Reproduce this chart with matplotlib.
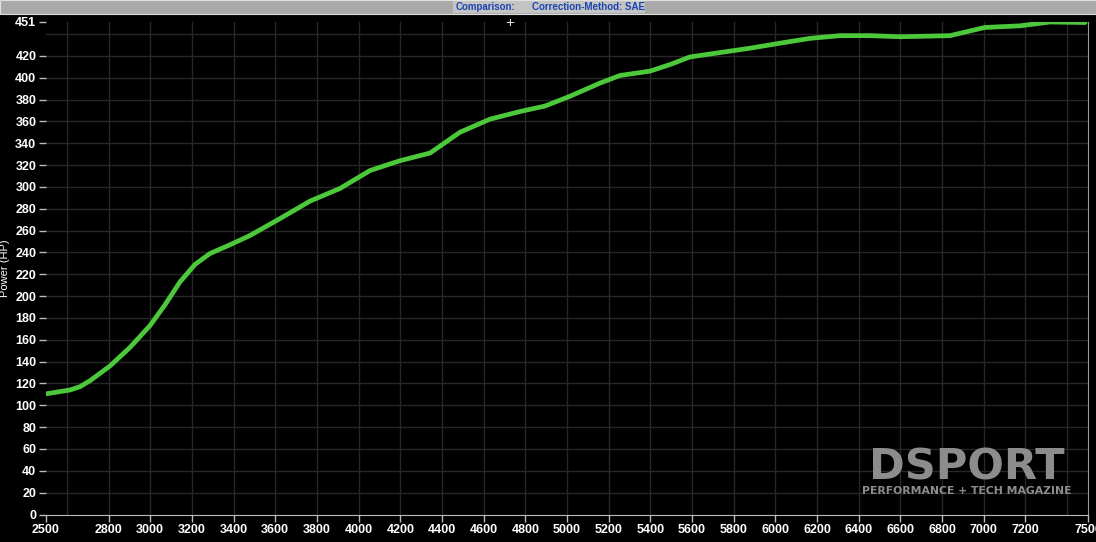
import numpy as np
import matplotlib.pyplot as plt
from matplotlib.patches import Rectangle

# dyno pull, SAE corrected
rpm = [2500, 2615, 2663, 2711, 2807, 2903, 2999, 3071, 3143, 3215, 3287, 3383,
       3479, 3623, 3767, 3911, 4055, 4199, 4343, 4486, 4630, 4774, 4894, 5014,
       5158, 5254, 5398, 5494, 5590, 5734, 5878, 6022, 6166, 6310, 6454, 6598,
       6838, 7005, 7174, 7318, 7486]
hp = [110.5, 114, 117, 122.5, 136, 153, 173, 192, 213, 229, 239, 247,
      255.5, 271, 287, 298.6, 315, 324, 331, 350, 362, 369, 374, 383,
      395, 402, 406, 412, 419, 423, 427, 431.6, 436, 438.5, 438.5, 437.5,
      438.5, 446, 447.5, 451, 450.5]

ytick_vals = list(range(0, 421, 20)) + [451]
xtick_vals = [2500] + list(range(2800, 7201, 200)) + [7500]

plt.rcParams['font.family'] = ['Liberation Sans', 'DejaVu Sans']

fig = plt.figure(figsize=(10.96, 5.42), dpi=100, facecolor='black')
ax = fig.add_axes([46/1096, 27.5/542, 1042/1096, 492.5/542])
ax.set_facecolor('black')

# grid
for g in range(2600, 7500, 200):
    ax.axvline(g, color='#272727', lw=1, zorder=0)
for g in range(20, 441, 20):
    ax.axhline(g, color='#272727', lw=1, zorder=0)

ax.plot(rpm, hp, color='#4cc93a', lw=3.4, solid_capstyle='round', zorder=3)

ax.set_xlim(2500, 7500)
ax.set_ylim(0, 451)
ax.set_xticks(xtick_vals)
ax.set_xticklabels([str(v) for v in xtick_vals])
ax.set_yticks(ytick_vals)
ax.set_yticklabels([str(v) for v in ytick_vals])
ax.tick_params(colors='#bbbbbb', labelcolor='white', labelsize=9, length=5, width=1, pad=2)
for lab in ax.get_xticklabels() + ax.get_yticklabels():
    lab.set_fontweight('bold')

for s in ['top', 'left']:
    ax.spines[s].set_visible(False)
ax.spines['bottom'].set_color('#bbbbbb')
ax.spines['right'].set_color('#999999')

ax.set_ylabel('Power (HP)', color='white', fontsize=8, labelpad=4)

# top title bar
fig.patches.append(Rectangle((0, 528/542), 1, 14/542, transform=fig.transFigure,
                             facecolor='#a9a9a9', edgecolor='#e0e0e0', lw=0.8))
fig.patches.append(Rectangle((453/1096, 529/542), 192/1096, 12/542, transform=fig.transFigure,
                             facecolor='#c4c4c4', edgecolor='none'))
fig.text(456/1096, 535/542, 'Comparison:', color='#1b45b0', fontsize=7,
         fontweight='bold', va='center', ha='left')
fig.text(532/1096, 535/542, 'Correction-Method: SAE', color='#1b45b0', fontsize=7,
         fontweight='bold', va='center', ha='left')
fig.text(510/1096, 519/542, '+', color='#dddddd', fontsize=11, ha='center', va='center')

# watermark
fig.text(967/1096, 75/542, 'DSPORT', color='#8c8c8c', fontsize=31, fontweight='heavy',
         ha='center', va='center', family='DejaVu Sans')
fig.text(967/1096, 51/542, 'PERFORMANCE + TECH MAGAZINE', color='#8c8c8c', fontsize=7.8,
         fontweight='bold', ha='center', va='center', family='DejaVu Sans')

fig.savefig('out.png', dpi=100, facecolor='black')
